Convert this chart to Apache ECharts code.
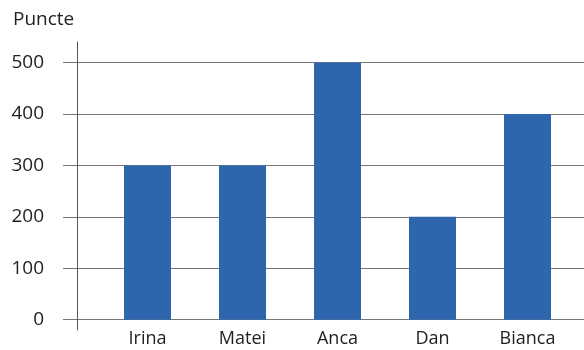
<!DOCTYPE html>
<html>
<head>
<meta charset="utf-8">
<script src="https://cdn.jsdelivr.net/npm/echarts@6/dist/echarts.min.js"></script>
<style>html,body{margin:0;padding:0;background:#fff}#c{width:584px;height:350px}</style>
</head>
<body>
<div id="c"></div>
<script>
var categories = ['Irina', 'Matei', 'Anca', 'Dan', 'Bianca'];
var values = [300, 300, 500, 200, 400];
var yTicks = [0, 100, 200, 300, 400, 500];
var yName = 'Puncte';

var font = '"Open Sans", "Noto Sans", sans-serif';
var chart = echarts.init(document.getElementById('c'));
chart.setOption({
  animation: false,
  title: {
    text: yName, left: 8, top: 5,
    textStyle: { fontFamily: font, fontSize: 19, fontWeight: 'normal', color: '#222' }
  },
  grid: [
    { left: 77, right: 0, top: 42, bottom: 20, outerBoundsMode: 'none', containLabel: false },
    { left: 100, right: 9, top: 42, bottom: 20, outerBoundsMode: 'none', containLabel: false }
  ],
  xAxis: [
    { type: 'category', gridIndex: 0, data: categories, show: false },
    {
      type: 'category', gridIndex: 1, data: categories,
      axisLine: { show: false }, axisTick: { show: false },
      axisLabel: { fontFamily: font, fontSize: 18, color: '#222', margin: 0 }
    }
  ],
  yAxis: [
    {
      type: 'value', gridIndex: 0, min: -20, max: 540,
      axisLine: { show: true, lineStyle: { color: '#555', width: 1 } },
      axisTick: { show: true, customValues: yTicks, length: 14, lineStyle: { color: '#777' } },
      axisLabel: { customValues: yTicks, fontFamily: font, fontSize: 19, color: '#222', margin: 33 },
      splitLine: { show: true, lineStyle: { color: '#777', width: 1 } }
    },
    { type: 'value', gridIndex: 1, min: -20, max: 540, show: false, splitLine: { show: false } }
  ],
  series: [{
    type: 'bar', xAxisIndex: 1, yAxisIndex: 1,
    data: values, barWidth: 47,
    itemStyle: { color: '#2e66ad' }
  }]
});
</script>
</body>
</html>
